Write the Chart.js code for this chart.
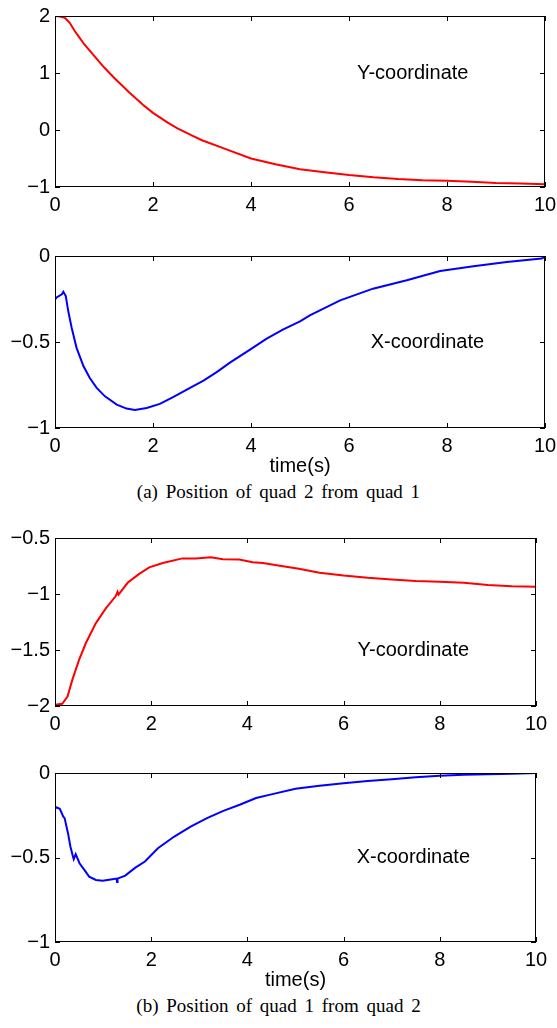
<!DOCTYPE html>
<html>
<head>
<meta charset="UTF-8">
<script src="https://cdn.jsdelivr.net/npm/chart.js@4.4.1/dist/chart.umd.min.js"></script>
<style>
  body { margin: 0; background: #fff; width: 557px; height: 1028px; position: relative; overflow: hidden; }
  .box { position: absolute; left: 0; width: 557px; }
  .cap { position: absolute; left: 0; width: 557px; text-align: center; font-family: "Liberation Serif", serif; font-size: 19px; word-spacing: 3px; color: #000; }
</style>
</head>
<body>
<div class="box" style="top:0;height:217px"><canvas id="c1"></canvas></div>
<div class="box" style="top:238px;height:238px"><canvas id="c2"></canvas></div>
<div class="cap" style="top:481px">(a) Position of quad 2 from quad 1</div>
<div class="box" style="top:520px;height:216px"><canvas id="c3"></canvas></div>
<div class="box" style="top:755px;height:235px"><canvas id="c4"></canvas></div>
<div class="cap" style="top:995px">(b) Position of quad 1 from quad 2</div>
<script>
// (a) quad 2 seen from quad 1 — Y coordinate
const tA1 = [0, 0.1, 0.2, 0.3, 0.4, 0.5, 0.6, 0.8, 1.0, 1.2, 1.5, 1.8, 2.0, 2.3, 2.5, 2.8, 3.0, 3.5, 4.0, 4.5, 5.0, 5.5, 6.0, 6.5, 7.0, 7.5, 8.0, 8.5, 9.0, 9.5, 10];
const yA1 = [2.0, 1.99, 1.97, 1.88, 1.74, 1.62, 1.5, 1.3, 1.1, 0.92, 0.67, 0.44, 0.30, 0.13, 0.03, -0.10, -0.18, -0.34, -0.50, -0.60, -0.69, -0.74, -0.79, -0.83, -0.86, -0.88, -0.89, -0.91, -0.93, -0.94, -0.95];

// (a) X coordinate
const tA2 = [0, 0.02, 0.14, 0.17, 0.22, 0.27, 0.34, 0.44, 0.58, 0.71, 0.85, 1.02, 1.26, 1.46, 1.63, 1.87, 2.14, 2.41, 2.69, 3.03, 3.3, 3.57, 3.98, 4.32, 4.66, 5.0, 5.2, 5.82, 6.49, 7.18, 7.86, 8.54, 9.22, 9.93, 10];
const xA2 = [-0.24, -0.243, -0.223, -0.208, -0.233, -0.32, -0.417, -0.534, -0.64, -0.709, -0.767, -0.816, -0.864, -0.887, -0.895, -0.884, -0.86, -0.82, -0.777, -0.725, -0.675, -0.62, -0.544, -0.48, -0.427, -0.38, -0.345, -0.258, -0.19, -0.141, -0.087, -0.06, -0.035, -0.015, -0.005];

// (b) quad 1 seen from quad 2 — Y coordinate
const tB1 = [0, 0.15, 0.26, 0.36, 0.5, 0.64, 0.85, 1.06, 1.26, 1.3, 1.32, 1.51, 1.75, 1.96, 2.24, 2.65, 2.93, 3.24, 3.49, 3.83, 4.11, 4.32, 4.74, 5.07, 5.5, 6.0, 6.5, 7.0, 7.5, 8.0, 8.5, 9.0, 9.5, 10];
const yB1 = [-1.99, -1.98, -1.916, -1.767, -1.588, -1.44, -1.26, -1.126, -1.021, -0.98, -1.005, -0.9, -0.82, -0.762, -0.723, -0.682, -0.684, -0.673, -0.69, -0.693, -0.717, -0.723, -0.753, -0.775, -0.81, -0.835, -0.855, -0.87, -0.885, -0.89, -0.90, -0.92, -0.93, -0.935];

// (b) X coordinate
const tB2 = [0, 0.034, 0.1, 0.17, 0.2, 0.27, 0.32, 0.374, 0.39, 0.43, 0.51, 0.61, 0.71, 0.85, 0.99, 1.16, 1.28, 1.29, 1.3, 1.46, 1.67, 1.87, 2.14, 2.48, 2.82, 3.16, 3.5, 3.84, 4.18, 4.52, 5.0, 5.5, 6.0, 6.5, 7.0, 7.5, 8.0, 8.5, 9.0, 9.5, 10];
const xB2 = [-0.21, -0.204, -0.212, -0.257, -0.267, -0.356, -0.435, -0.495, -0.51, -0.48, -0.534, -0.573, -0.613, -0.633, -0.637, -0.63, -0.625, -0.645, -0.625, -0.607, -0.56, -0.524, -0.445, -0.376, -0.317, -0.267, -0.224, -0.188, -0.148, -0.125, -0.093, -0.075, -0.06, -0.047, -0.037, -0.025, -0.016, -0.01, -0.008, -0.005, 0];

const xTicks = [0, 2, 4, 6, 8, 10];
const TICK_FONT = { family: "'Liberation Sans', Arial, sans-serif", size: 20, lineHeight: 1 };

// matlab style: closed box + short ticks pointing inward, plus a text label inside
const boxPlugin = {
  id: 'matlabBox',
  afterDraw(chart) {
    const { ctx, chartArea: a, scales } = chart;
    const opt = chart.options.plugins.matlabBox;
    ctx.save();
    ctx.strokeStyle = '#000';
    ctx.lineWidth = 1;
    ctx.strokeRect(a.left + 0.5, a.top + 0.5, a.right - a.left - 1, a.bottom - a.top - 1);
    ctx.beginPath();
    scales.x.ticks.forEach(t => {
      const px = Math.round(scales.x.getPixelForValue(t.value)) + 0.5;
      ctx.moveTo(px, a.bottom); ctx.lineTo(px, a.bottom - 5);
      ctx.moveTo(px, a.top); ctx.lineTo(px, a.top + 5);
    });
    scales.y.ticks.forEach(t => {
      const py = Math.round(scales.y.getPixelForValue(t.value)) + 0.5;
      ctx.moveTo(a.left, py); ctx.lineTo(a.left + 5, py);
      ctx.moveTo(a.right, py); ctx.lineTo(a.right - 5, py);
    });
    ctx.stroke();
    ctx.fillStyle = '#000';
    ctx.font = "20px 'Liberation Sans', Arial, sans-serif";
    ctx.textAlign = 'center';
    ctx.textBaseline = 'middle';
    ctx.fillText(opt.text, scales.x.getPixelForValue(opt.at[0]), scales.y.getPixelForValue(opt.at[1]));
    ctx.restore();
  }
};

function fmt(v) {
  return v < 0 ? '\u2212' + Math.abs(v) : String(v);
}

function makeChart(id, ts, vs, color, cfg) {
  const pts = ts.map((t, i) => ({ x: t, y: vs[i] }));
  return new Chart(document.getElementById(id), {
    type: 'line',
    data: { datasets: [{ data: pts, borderColor: color, borderWidth: 2, pointRadius: 0, tension: 0 }] },
    options: {
      responsive: true,
      maintainAspectRatio: false,
      animation: false,
      layout: { padding: { top: cfg.top, right: cfg.right, left: 0, bottom: 0 } },
      plugins: { legend: { display: false }, tooltip: { enabled: false }, matlabBox: { text: cfg.text, at: cfg.at } },
      scales: {
        x: {
          type: 'linear', min: 0, max: 10,
          afterBuildTicks: s => { s.ticks = xTicks.map(v => ({ value: v })); },
          grid: { display: false, drawTicks: false },
          border: { display: false },
          ticks: { color: '#000', font: TICK_FONT, padding: 8, maxRotation: 0 },
          title: { display: cfg.title, text: 'time(s)', color: '#000', font: TICK_FONT, padding: { top: 0, bottom: 0 } },
          afterFit: s => { s.height = cfg.xh; s.paddingLeft = 0; s.paddingRight = 0; }
        },
        y: {
          min: cfg.ymin, max: cfg.ymax,
          afterBuildTicks: s => { s.ticks = cfg.yticks.map(v => ({ value: v })); },
          grid: { display: false, drawTicks: false },
          border: { display: false },
          ticks: { color: '#000', font: TICK_FONT, padding: 5, callback: v => fmt(v) },
          afterFit: s => { s.width = 55; s.paddingTop = 0; s.paddingBottom = 0; }
        }
      }
    },
    plugins: [boxPlugin]
  });
}

makeChart('c1', tA1, yA1, '#ff0000', { top: 16, right: 12, xh: 30, title: false, ymin: -1, ymax: 2, yticks: [-1, 0, 1, 2], text: 'Y-coordinate', at: [7.3, 1.0] });
makeChart('c2', tA2, xA2, '#0000ff', { top: 18, right: 12, xh: 48, title: true, ymin: -1, ymax: 0, yticks: [-1, -0.5, 0], text: 'X-coordinate', at: [7.6, -0.5] });
makeChart('c3', tB1, yB1, '#ff0000', { top: 18, right: 21, xh: 30, title: false, ymin: -2, ymax: -0.5, yticks: [-2, -1.5, -1, -0.5], text: 'Y-coordinate', at: [7.45, -1.5] });
makeChart('c4', tB2, xB2, '#0000ff', { top: 18, right: 21, xh: 48, title: true, ymin: -1, ymax: 0, yticks: [-1, -0.5, 0], text: 'X-coordinate', at: [7.45, -0.5] });
</script>
</body>
</html>
